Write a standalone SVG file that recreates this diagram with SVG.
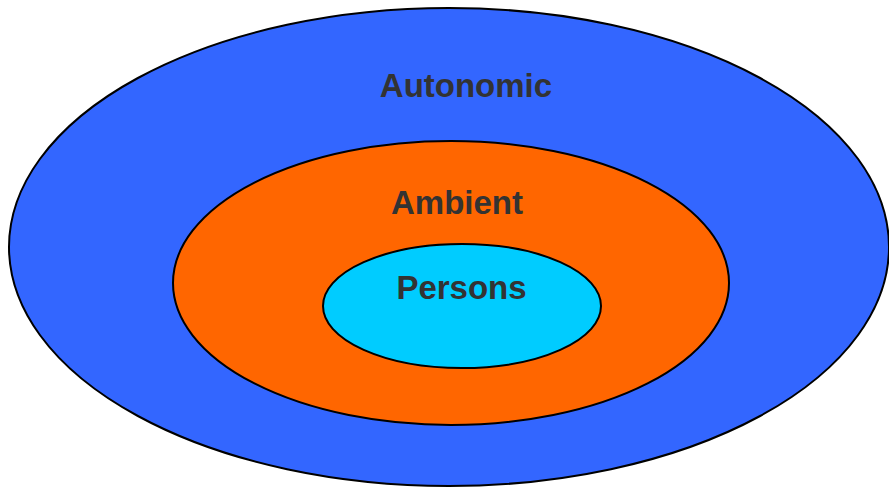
<svg xmlns="http://www.w3.org/2000/svg" width="889" height="489" viewBox="0 0 889 489">
  <style>
    .ring { stroke: #000; stroke-width: 2; }
    .label { font-family: "Liberation Sans", Arial, sans-serif; font-weight: bold; font-size: 33px; fill: #333333; text-anchor: middle; }
  </style>
  <rect width="889" height="489" fill="#ffffff"/>
  <g id="autonomic">
    <ellipse class="ring" cx="449" cy="247" rx="440" ry="239" fill="#3366FF"/>
    <text class="label" x="466" y="97">Autonomic</text>
  </g>
  <g id="ambient">
    <ellipse class="ring" cx="451" cy="283" rx="278" ry="142" fill="#FF6600"/>
    <text class="label" x="457" y="214">Ambient</text>
  </g>
  <g id="persons">
    <ellipse class="ring" cx="462" cy="306" rx="139" ry="62" fill="#00CCFF"/>
    <text class="label" x="461.5" y="299">Persons</text>
  </g>
  <g id="connectors"></g>
</svg>
